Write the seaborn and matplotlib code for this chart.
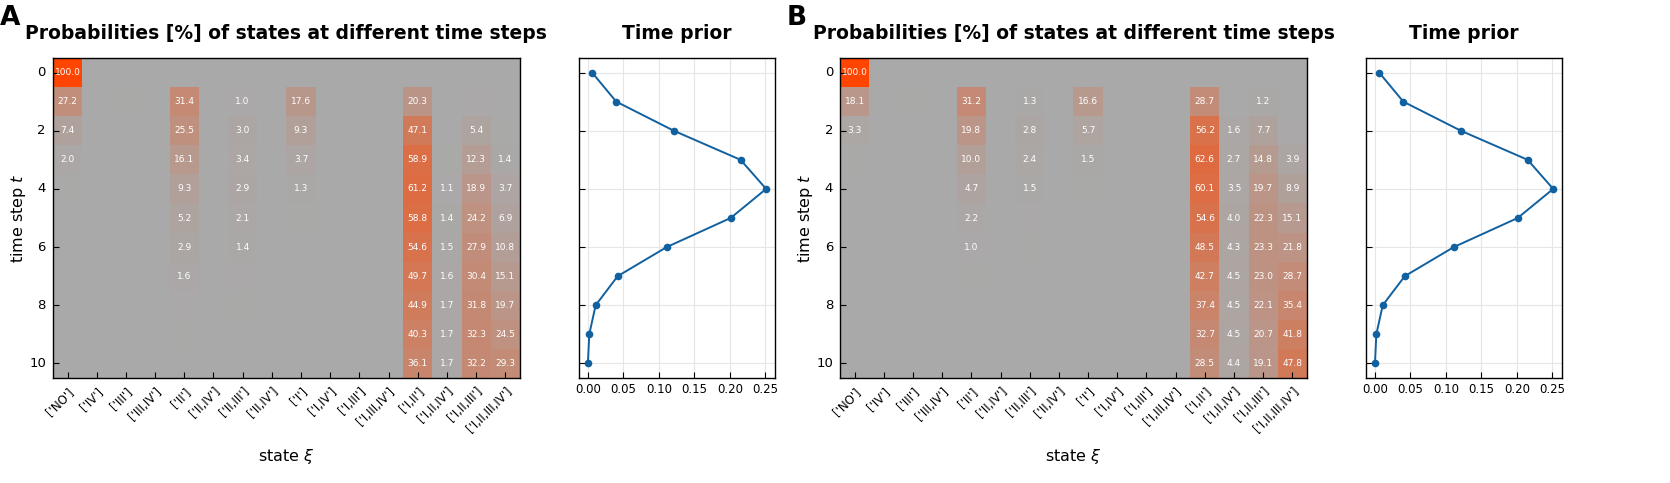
import numpy as np
import pandas as pd
import matplotlib
matplotlib.use("Agg")
import matplotlib.pyplot as plt
import seaborn as sns
from matplotlib.colors import LinearSegmentedColormap

states = ["['NO']", "['IV']", "['III']", "['III,IV']", "['II']", "['II,IV']",
          "['II,III']", "['II,IV']", "['I']", "['I,IV']", "['I,III']",
          "['I,III,IV']", "['I,II']", "['I,II,IV']", "['I,II,III']", "['I,II,III,IV']"]
time_steps = list(range(11))

# probabilities [%] per state column, rows = time step 0..10
probs_a = {
    "['NO']":          [100.0, 27.2, 7.4, 2.0, 0.5, 0.1, 0, 0, 0, 0, 0],
    "['III']":         [0, 0.6, 0.3, 0.1, 0, 0, 0, 0, 0, 0, 0],
    "['II']":          [0, 31.4, 25.5, 16.1, 9.3, 5.2, 2.9, 1.6, 0.9, 0.5, 0.3],
    "['II,III']":      [0, 1.0, 3.0, 3.4, 2.9, 2.1, 1.4, 0.9, 0.6, 0.3, 0.2],
    "['I']":           [0, 17.6, 9.3, 3.7, 1.3, 0.4, 0.1, 0, 0, 0, 0],
    "['I,II']":        [0, 20.3, 47.1, 58.9, 61.2, 58.8, 54.6, 49.7, 44.9, 40.3, 36.1],
    "['I,II,IV']":     [0, 0, 0.3, 0.7, 1.1, 1.4, 1.5, 1.6, 1.7, 1.7, 1.7],
    "['I,II,III']":    [0, 0.9, 5.4, 12.3, 18.9, 24.2, 27.9, 30.4, 31.8, 32.3, 32.2],
    "['I,II,III,IV']": [0, 0, 0.4, 1.4, 3.7, 6.9, 10.8, 15.1, 19.7, 24.5, 29.3],
}
probs_b = {
    "['NO']":          [100.0, 18.1, 3.3, 0.6, 0.1, 0, 0, 0, 0, 0, 0],
    "['III']":         [0, 0.4, 0.2, 0, 0, 0, 0, 0, 0, 0, 0],
    "['II']":          [0, 31.2, 19.8, 10.0, 4.7, 2.2, 1.0, 0.5, 0.2, 0.1, 0],
    "['II,III']":      [0, 1.3, 2.8, 2.4, 1.5, 0.8, 0.4, 0.2, 0.1, 0, 0],
    "['I']":           [0, 16.6, 5.7, 1.5, 0.4, 0.1, 0, 0, 0, 0, 0],
    "['I,II']":        [0, 28.7, 56.2, 62.6, 60.1, 54.6, 48.5, 42.7, 37.4, 32.7, 28.5],
    "['I,II,IV']":     [0, 0.3, 1.6, 2.7, 3.5, 4.0, 4.3, 4.5, 4.5, 4.5, 4.4],
    "['I,II,III']":    [0, 1.2, 7.7, 14.8, 19.7, 22.3, 23.3, 23.0, 22.1, 20.7, 19.1],
    "['I,II,III,IV']": [0, 0, 0.9, 3.9, 8.9, 15.1, 21.8, 28.7, 35.4, 41.8, 47.8],
}
prior_a = [0.006, 0.040, 0.121, 0.215, 0.251, 0.201, 0.111, 0.042, 0.011, 0.002, 0.0001]
prior_b = [0.006, 0.040, 0.121, 0.215, 0.251, 0.201, 0.111, 0.042, 0.011, 0.002, 0.0001]


def build_frame(probs):
    df = pd.DataFrame(0.0, index=time_steps, columns=range(len(states)))
    for name, vals in probs.items():
        df[states.index(name)] = vals
    return df


cmap = LinearSegmentedColormap.from_list("grey_orange", ["darkgray", "orangered"])
line_col = "#11609f"

fig = plt.figure(figsize=(16.7, 4.83), dpi=100)


def draw_panel(x0, probs, prior, letter):
    df = build_frame(probs)
    labels = df.map(lambda v: f"{v:.1f}" if v >= 1 else "")
    ax = fig.add_axes([x0, 0.2174, 0.2796, 0.6625])
    sns.heatmap(df, ax=ax, cmap=cmap, vmin=0, vmax=100, cbar=False,
                annot=labels, fmt="", annot_kws={"color": "white", "fontsize": 6.5})
    for s in ax.spines.values():
        s.set_visible(True)
        s.set_linewidth(1.0)
    ax.set_xticks(np.arange(len(states)) + 0.5)
    ax.set_xticklabels(states, rotation=45, ha="right", rotation_mode="anchor", fontsize=8.5)
    ax.set_yticks(np.arange(0, 11, 2) + 0.5)
    ax.set_yticklabels([str(t) for t in range(0, 11, 2)], rotation=0, fontsize=9.5)
    ax.tick_params(axis="both", direction="in", length=4, pad=5)
    ax.set_xlabel(r"state $\xi$", fontsize=11.5, labelpad=8)
    ax.set_ylabel(r"time step $t$", fontsize=11.5, labelpad=1)
    ax.set_title("Probabilities [%] of states at different time steps",
                 fontsize=13.5, fontweight="bold", pad=14)

    ax2 = fig.add_axes([x0 + 0.3150, 0.2174, 0.1174, 0.6625])
    sns.lineplot(x=prior, y=time_steps, ax=ax2, color=line_col, marker="o",
                 markersize=5.5, markeredgewidth=0, linewidth=1.4, sort=False)
    ax2.set_ylim(10.5, -0.5)
    ax2.set_yticks(range(0, 11, 2))
    ax2.set_yticklabels([])
    ax2.set_xticks([0.0, 0.05, 0.10, 0.15, 0.20, 0.25])
    ax2.set_xticklabels(["0.00", "0.05", "0.10", "0.15", "0.20", "0.25"], fontsize=8.5)
    ax2.grid(True, color="#e6e6e6", linewidth=0.8)
    ax2.set_axisbelow(True)
    ax2.tick_params(axis="both", direction="in", length=4)
    for s in ax2.spines.values():
        s.set_linewidth(1.0)
    ax2.set_title("Time prior", fontsize=13.5, fontweight="bold", pad=14)

    fig.text(x0 - 0.0317, 0.99, letter, fontsize=19, fontweight="bold", va="top")


draw_panel(0.0317, probs_a, prior_a, "A")
draw_panel(0.5030, probs_b, prior_b, "B")

fig.savefig("out.png", dpi=100)
